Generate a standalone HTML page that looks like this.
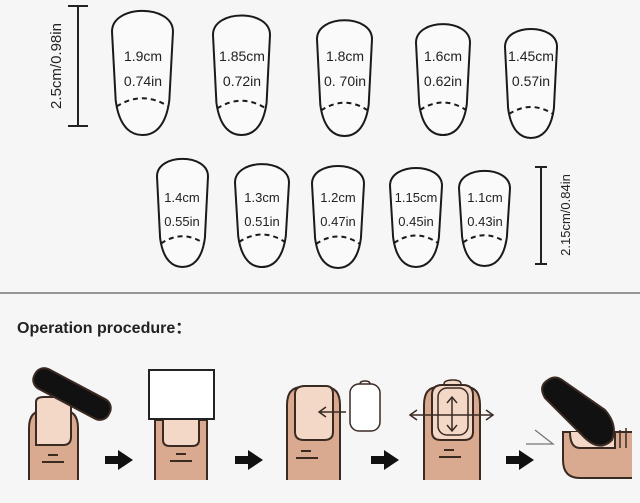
<!DOCTYPE html>
<html><head><meta charset="utf-8"><style>
html,body{margin:0;padding:0;background:#f6f6f6;}
svg{display:block;}
text{font-family:"Liberation Sans",Arial,sans-serif;fill:#222;}
</style></head><body>
<svg width="640" height="503" viewBox="0 0 640 503" xmlns="http://www.w3.org/2000/svg">
<rect width="640" height="503" fill="#f6f6f6"/>
<g fill="#fafafa" stroke="#1a1a1a" stroke-width="2">
<path d="M112,31.6 C112,4 173,4 173,31.6 L169.3,100.5 C165.7,127.9 153.5,135 142.5,135 C131.5,135 119.3,127.9 115.7,100.5 Z"/>
<path d="M213,34.9 C213,9 270,9 270,34.9 L266.6,102.6 C263.2,128.3 251.8,135 241.5,135 C231.2,135 219.8,128.3 216.4,102.6 Z"/>
<path d="M317,39.1 C317,14 372,14 372,39.1 L368.7,104.8 C365.4,129.5 354.4,136 344.5,136 C334.6,136 323.6,129.5 320.3,104.8 Z"/>
<path d="M416,42.7 C416,18 470,18 470,42.7 L466.8,104.3 C463.5,128.6 452.7,135 443,135 C433.3,135 422.5,128.6 419.2,104.3 Z"/>
<path d="M505,46.8 C505,23 557,23 557,46.8 L553.9,108.4 C550.8,131.8 540.4,138 531,138 C521.6,138 511.2,131.8 508.1,108.4 Z"/>
<path d="M157,176.4 C157,153 208,153 208,176.4 L204.9,238 C201.9,260.9 191.7,267 182.5,267 C173.3,267 163.1,260.9 160.1,238 Z"/>
<path d="M235,182.7 C235,158 289,158 289,182.7 L285.8,236.3 C282.5,260.6 271.7,267 262,267 C252.3,267 241.5,260.6 238.2,236.3 Z"/>
<path d="M312,183.8 C312,160 364,160 364,183.8 L360.9,238.4 C357.8,261.8 347.4,268 338,268 C328.6,268 318.2,261.8 315.1,238.4 Z"/>
<path d="M390,185.8 C390,162 442,162 442,185.8 L438.9,237.4 C435.8,260.8 425.4,267 416,267 C406.6,267 396.2,260.8 393.1,237.4 Z"/>
<path d="M459,188.4 C459,165 510,165 510,188.4 L506.9,237 C503.9,259.9 493.7,266 484.5,266 C475.3,266 465.1,259.9 462.1,237 Z"/>
</g>
<g fill="none" stroke="#1a1a1a" stroke-width="2" stroke-dasharray="5,4">
<path d="M116.5,106.5 Q142.5,90 168.5,106.5"/>
<path d="M217,108.5 Q241.5,93 266,108.5"/>
<path d="M321,110.5 Q344.5,95 368,110.5"/>
<path d="M420,110 Q443,95 466,110"/>
<path d="M509,114 Q531,100 553,114"/>
<path d="M161,243.5 Q182.5,229 204,243.5"/>
<path d="M239,242 Q262,227 285,242"/>
<path d="M316,244 Q338,229 360,244"/>
<path d="M394,243 Q416,228 438,243"/>
<path d="M463,242.5 Q484.5,228 506,242.5"/>
</g>
<g stroke="#222" stroke-width="2">
<line x1="78" y1="6" x2="78" y2="126"/><line x1="68" y1="6" x2="88" y2="6"/><line x1="68" y1="126" x2="88" y2="126"/>
<line x1="541" y1="167" x2="541" y2="264"/><line x1="535" y1="167" x2="547" y2="167"/><line x1="535" y1="264" x2="547" y2="264"/>
</g>
<text transform="translate(61,66) rotate(-90)" font-size="15" text-anchor="middle">2.5cm/0.98in</text>
<text transform="translate(570,215) rotate(-90)" font-size="13" text-anchor="middle">2.15cm/0.84in</text>
<g font-size="14" text-anchor="middle">
<text x="143" y="61">1.9cm</text><text x="143" y="86">0.74in</text>
<text x="242" y="61">1.85cm</text><text x="242" y="86">0.72in</text>
<text x="345" y="61">1.8cm</text><text x="345" y="86">0. 70in</text>
<text x="443" y="61">1.6cm</text><text x="443" y="86">0.62in</text>
<text x="531" y="61">1.45cm</text><text x="531" y="86">0.57in</text>
</g>
<g font-size="13" text-anchor="middle">
<text x="182" y="202">1.4cm</text><text x="182" y="226">0.55in</text>
<text x="262" y="202">1.3cm</text><text x="262" y="226">0.51in</text>
<text x="338" y="202">1.2cm</text><text x="338" y="226">0.47in</text>
<text x="416" y="202">1.15cm</text><text x="416" y="226">0.45in</text>
<text x="485" y="202">1.1cm</text><text x="485" y="226">0.43in</text>
</g>
<line x1="0" y1="293" x2="640" y2="293" stroke="#777" stroke-width="1.5"/>
<text x="17" y="333" font-size="16" font-weight="bold" fill="#111">Operation procedure：</text>

<g stroke="#3a2a22" stroke-width="2">
<path d="M29,480 V428 Q29,410 45,410 H62 Q78,410 78,428 V480" fill="#d9aa90"/>
<path d="M36,445 V402 Q36,397 44,397 H64 Q71,397 71,402 V437 Q71,445 63,445 H43 Q36,445 36,445Z" fill="#f3d8c8"/>
<line x1="48" y1="455" x2="58" y2="455"/><line x1="42" y1="462" x2="64" y2="462"/>
<rect x="30" y="383" width="84" height="22" rx="10" transform="rotate(28 72 394)" fill="#111"/>
<path d="M155,480 V420 H207 V480" fill="#d9aa90"/>
<path d="M163,420 V440 Q163,446 170,446 H192 Q199,446 199,440 V420" fill="#f3d8c8"/>
<line x1="176" y1="454" x2="186" y2="454"/><line x1="170" y1="461" x2="192" y2="461"/>
<rect x="149" y="370" width="65" height="49" fill="#fff" stroke="#222"/>
<path d="M287,480 V405 Q287,387 302,387 H325 Q340,387 340,405 V480" fill="#d9aa90"/>
<path d="M295,420 V394 Q295,386 305,386 H326 Q333,386 333,394 V432 Q333,440 324,440 H304 Q295,440 295,432Z" fill="#f3d8c8"/>
<line x1="301" y1="451" x2="311" y2="451"/><line x1="296" y1="458" x2="318" y2="458"/>
<line x1="346" y1="412" x2="320" y2="412" stroke-width="1.5"/><path d="M326,407 L319,412 L326,417" fill="none" stroke-width="1.5"/>
<path d="M360,384 Q360,381 365,381 Q370,381 370,384" fill="#fff" stroke-width="1.5"/>
<rect x="350" y="384" width="30" height="47" rx="9" fill="#fff" stroke-width="1.5"/>
<path d="M424,480 V405 Q424,387 438,387 H466 Q480,387 480,405 V480" fill="#d9aa90"/>
<path d="M432,395 Q432,385 442,385 H463 Q473,385 473,395 V432 Q473,440 464,440 H441 Q432,440 432,432Z" fill="#f3d8c8"/>
<path d="M444,384 Q444,380 453,380 Q461,380 461,384" fill="#f3d8c8" stroke-width="1.5"/>
<rect x="438" y="388" width="30" height="47" rx="9" fill="none" stroke-width="1.5"/>
<line x1="411" y1="415" x2="492" y2="415" stroke-width="1.5"/>
<path d="M417,410 L410,415 L417,420 M486,410 L493,415 L486,420" fill="none" stroke-width="1.5"/>
<line x1="452" y1="398" x2="452" y2="430" stroke-width="1.5"/>
<path d="M447,403 L452,397 L457,403 M447,425 L452,431 L457,425" fill="none" stroke-width="1.5"/>
<line x1="444" y1="450" x2="454" y2="450"/><line x1="439" y1="457" x2="461" y2="457"/>
<path d="M632,478 H580 Q563,478 563,460 V432 H632" fill="#d9aa90"/>
<path d="M570,432 Q570,448 580,448 H615 V432" fill="#f3d8c8"/>
<line x1="620" y1="430" x2="620" y2="448" stroke-width="1.5"/><line x1="626" y1="428" x2="626" y2="448" stroke-width="1.5"/>
<path d="M548,380 Q538,386 545,398 L585,438 Q600,452 612,440 Q618,425 605,410 L562,380 Q555,375 548,380Z" fill="#111"/>
<path d="M526,444 H553 L535,430" fill="none" stroke="#777" stroke-width="1.3"/>
</g>
<g fill="#111">
<path d="M105,456 H118 V450 L133,460 L118,470 V464 H105Z"/>
<path d="M235,456 H248 V450 L263,460 L248,470 V464 H235Z"/>
<path d="M371,456 H384 V450 L399,460 L384,470 V464 H371Z"/>
<path d="M506,456 H519 V450 L534,460 L519,470 V464 H506Z"/>
</g>
</svg>
</body></html>
